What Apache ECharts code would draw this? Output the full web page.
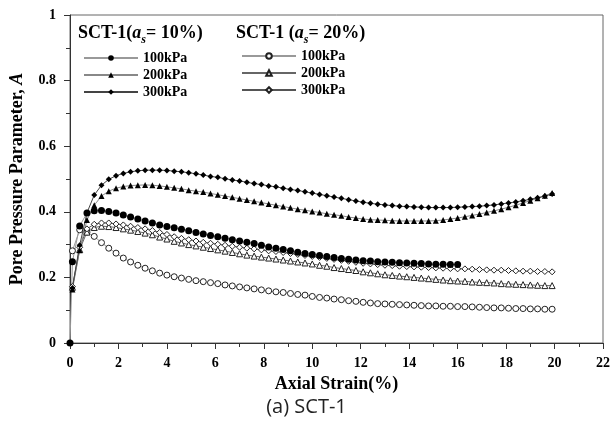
<!DOCTYPE html>
<html>
<head>
<meta charset="utf-8">
<script src="https://cdn.jsdelivr.net/npm/echarts@6/dist/echarts.min.js"></script>
<style>
  html, body { margin: 0; padding: 0; background: #fff; }
  #main { width: 613px; height: 435px; }
</style>
</head>
<body>
<div id="main"></div>
<script>
// axial strain (%) of each reading
var strain = [0, 0.1, 0.4, 0.7, 1.0, 1.3, 1.6, 1.9, 2.2, 2.5, 2.8, 3.1, 3.4, 3.7, 4.0, 4.3, 4.6, 4.9, 5.2, 5.5, 5.8,
  6.1, 6.4, 6.7, 7.0, 7.3, 7.6, 7.9, 8.2, 8.5, 8.8, 9.1, 9.4, 9.7, 10.0, 10.3, 10.6, 10.9, 11.2, 11.5, 11.8,
  12.1, 12.4, 12.7, 13.0, 13.3, 13.6, 13.9, 14.2, 14.5, 14.8, 15.1, 15.4, 15.7, 16.0, 16.3, 16.6, 16.9, 17.2,
  17.5, 17.8, 18.1, 18.4, 18.7, 19.0, 19.3, 19.6, 19.9];

// SCT-1, as = 10%
var a10_100 = [0, .248, .357, .396, .403, .404, .401, .396, .39, .384, .378, .372, .366, .36, .355, .351, .347, .342, .337, .332, .328,
  .324, .319, .315, .311, .307, .303, .298, .293, .289, .285, .281, .277, .273, .27, .267, .264, .261, .258, .255, .253,
  .251, .25, .248, .247, .246, .245, .244, .243, .242, .241, .24, .24, .239, .239];
var a10_200 = [null, .163, .283, .375, .42, .448, .463, .472, .477, .48, .481, .482, .481, .479, .476, .473, .47, .466, .463, .46, .456,
  .452, .448, .444, .44, .436, .432, .428, .424, .42, .416, .412, .408, .405, .401, .398, .394, .391, .388, .384, .381,
  .378, .376, .375, .374, .373, .372, .372, .372, .372, .372, .373, .375, .378, .381, .385, .389, .393, .398,
  .403, .408, .414, .42, .427, .434, .441, .449, .457];
var a10_300 = [null, .168, .298, .397, .451, .481, .499, .51, .517, .522, .525, .527, .527, .527, .526, .524, .522, .519, .516, .512, .508,
  .505, .501, .497, .494, .49, .486, .483, .479, .476, .472, .468, .465, .461, .457, .453, .449, .445, .441, .437, .433,
  .429, .426, .423, .421, .419, .417, .416, .415, .414, .413, .413, .413, .413, .414, .415, .416, .417, .419,
  .421, .424, .427, .43, .434, .438, .443, .448, .454];

// SCT-1, as = 20%
var a20_100 = [null, .281, .345, .338, .325, .306, .289, .274, .259, .247, .237, .228, .22, .213, .207, .202, .198, .194, .19, .187, .184,
  .181, .177, .174, .171, .168, .165, .162, .159, .156, .154, .151, .148, .146, .142, .139, .137, .134, .132, .129, .127,
  .124, .122, .12, .119, .118, .117, .116, .115, .114, .113, .113, .112, .112, .111, .111, .11, .109, .108,
  .107, .107, .106, .105, .105, .104, .104, .103, .103];
var a20_200 = [null, .17, .285, .338, .352, .356, .355, .352, .348, .344, .34, .335, .33, .323, .317, .31, .305, .3, .296, .292, .288,
  .284, .28, .276, .272, .268, .265, .262, .259, .256, .253, .25, .247, .244, .241, .237, .234, .23, .227, .224, .221,
  .217, .214, .211, .208, .206, .204, .202, .2, .198, .196, .194, .192, .19, .189, .188, .186, .185, .184,
  .183, .181, .18, .179, .178, .177, .176, .175, .175];
var a20_300 = [null, .172, .292, .348, .362, .366, .366, .363, .36, .356, .352, .348, .343, .337, .331, .324, .319, .315, .311, .307, .304,
  .301, .298, .295, .292, .289, .287, .284, .281, .279, .276, .273, .27, .267, .264, .261, .258, .255, .252, .249, .246,
  .243, .241, .239, .237, .236, .234, .233, .232, .231, .23, .229, .228, .227, .226, .226, .225, .224, .223,
  .222, .222, .221, .22, .219, .219, .218, .218, .217];

function pairs(vals) {
  var out = [];
  for (var i = 0; i < vals.length; i++) {
    out.push([strain[i], vals[i]]);
  }
  return out;
}

var serif = '"Liberation Serif", "DejaVu Serif", serif';

function makeSeries(name, vals, symbol, filled, size, lineColor) {
  return {
    name: name,
    type: 'line',
    data: pairs(vals),
    symbol: symbol,
    symbolSize: size,
    showAllSymbol: true,
    lineStyle: { color: lineColor, width: 1 },
    itemStyle: filled
      ? { color: '#000', borderColor: '#000', borderWidth: 0 }
      : { color: '#fff', borderColor: '#222', borderWidth: 1 },
    emphasis: { disabled: true }
  };
}

var titleRich = {
  b: { fontFamily: serif, fontWeight: 'bold', fontSize: 18, color: '#000', lineHeight: 22, verticalAlign: 'bottom' },
  i: { fontFamily: serif, fontWeight: 'bold', fontStyle: 'italic', fontSize: 18, color: '#000', lineHeight: 22, verticalAlign: 'bottom' },
  s: { fontFamily: serif, fontWeight: 'bold', fontStyle: 'italic', fontSize: 12, color: '#000', lineHeight: 22, verticalAlign: 'bottom', padding: [0, 0, -4, 0] }
};

var legendText = { fontFamily: serif, fontWeight: 'bold', fontSize: 14, color: '#000' };

var chart = echarts.init(document.getElementById('main'));

chart.setOption({
  animation: false,
  grid: {
    left: 70, right: 5, top: 15, bottom: 92,
    show: true, borderColor: '#666', borderWidth: 1, backgroundColor: 'transparent'
  },
  legend: [
    {
      left: 78, top: 46, orient: 'vertical',
      itemWidth: 54, itemHeight: 7, itemGap: 3,
      data: ['100kPa ', '200kPa ', '300kPa '],
      formatter: function (n) { return n.trim(); },
      textStyle: legendText
    },
    {
      left: 236, top: 44, orient: 'vertical',
      itemWidth: 54, itemHeight: 7, itemGap: 3,
      data: ['100kPa  ', '200kPa  ', '300kPa  '],
      formatter: function (n) { return n.trim(); },
      textStyle: legendText
    }
  ],
  xAxis: {
    type: 'value', min: 0, max: 22, interval: 2,
    name: 'Axial Strain(%)', nameLocation: 'middle', nameGap: 29,
    nameTextStyle: { fontFamily: serif, fontWeight: 'bold', fontSize: 18, color: '#000' },
    axisLine: { lineStyle: { color: '#333', width: 1 } },
    axisTick: { length: 6, lineStyle: { color: '#333' } },
    minorTick: { show: true, splitNumber: 2, length: 4, lineStyle: { color: '#333' } },
    splitLine: { show: false },
    axisLabel: { fontFamily: serif, fontWeight: 'bold', fontSize: 14, color: '#000', margin: 13 }
  },
  yAxis: {
    type: 'value', min: 0, max: 1, interval: 0.2,
    name: 'Pore Pressure Parameter, {i|A}', nameLocation: 'middle', nameGap: 44, nameRotate: 90,
    nameTextStyle: {
      fontFamily: serif, fontWeight: 'bold', fontSize: 18, color: '#000',
      rich: { i: { fontFamily: serif, fontWeight: 'bold', fontStyle: 'italic', fontSize: 18, color: '#000' } }
    },
    axisLine: { show: true, lineStyle: { color: '#333', width: 1 } },
    axisTick: { show: true, length: 6, lineStyle: { color: '#333' } },
    minorTick: { show: true, splitNumber: 2, length: 4, lineStyle: { color: '#333' } },
    splitLine: { show: false },
    axisLabel: { fontFamily: serif, fontWeight: 'bold', fontSize: 14, color: '#000', margin: 14 }
  },
  graphic: [
    {
      type: 'text', left: 78, top: 24,
      style: { text: '{b|SCT-1(}{i|a}{s|s}{b|= 10%)}', rich: titleRich }
    },
    {
      type: 'text', left: 236, top: 24,
      style: { text: '{b|SCT-1 (}{i|a}{s|s}{b|= 20%)}', rich: titleRich }
    },
    {
      type: 'text', left: 'center', top: 397,
      style: { text: '(a) SCT-1', fontFamily: '"Open Sans", "Noto Sans", sans-serif', fontSize: 20, fill: '#222' }
    }
  ],
  series: [
    makeSeries('100kPa  ', a20_100, 'circle', false, 6, '#999'),
    makeSeries('200kPa  ', a20_200, 'triangle', false, 6, '#666'),
    makeSeries('300kPa  ', a20_300, 'diamond', false, 6, '#555'),
    makeSeries('100kPa ', a10_100, 'circle', true, 7, '#999'),
    makeSeries('200kPa ', a10_200, 'triangle', true, 6, '#888'),
    makeSeries('300kPa ', a10_300, 'diamond', true, 6, '#444')
  ]
});
</script>
</body>
</html>
